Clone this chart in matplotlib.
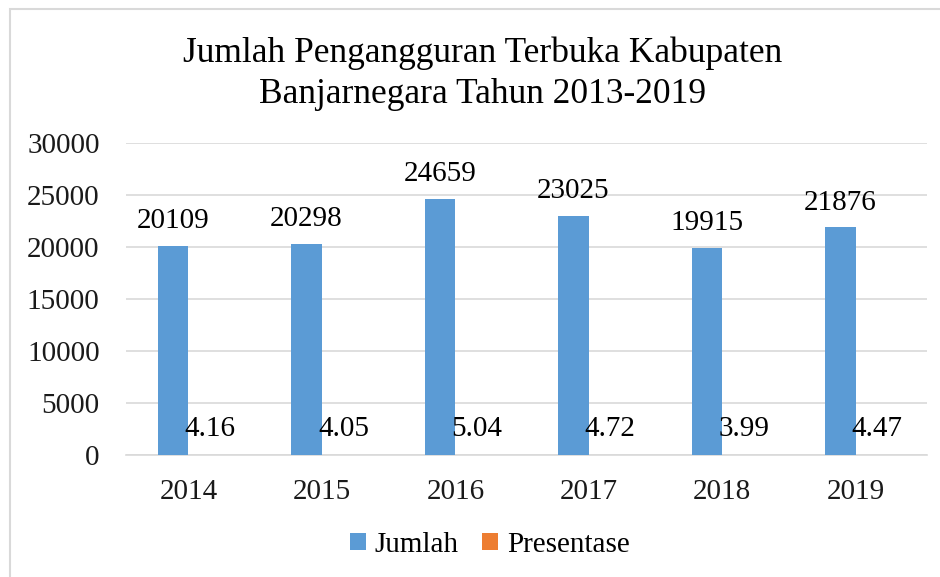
import matplotlib.pyplot as plt
from matplotlib.patches import Rectangle
import numpy as np

years = ['2014', '2015', '2016', '2017', '2018', '2019']
jumlah = [20109, 20298, 24659, 23025, 19915, 21876]
presentase = [4.16, 4.05, 5.04, 4.72, 3.99, 4.47]

plt.rcParams['font.family'] = ['Liberation Serif', 'DejaVu Serif']

fig = plt.figure(figsize=(9.4, 5.77), dpi=100)
ax = fig.add_axes([126 / 940, 1 - 455 / 577, (927 - 126) / 940, (455 - 143) / 577])

# outer chart frame
fig.patches.append(Rectangle((10 / 940, -0.01), 1.0, 1 - 9 / 577 + 0.01,
                             transform=fig.transFigure, fill=False,
                             edgecolor='#d9d9d9', linewidth=1.5))

x = np.arange(len(years))
w = 0.229
b1 = ax.bar(x - w / 2, jumlah, w, color='#5b9bd5', label='Jumlah', zorder=3)
b2 = ax.bar(x + w / 2, presentase, w, color='#ed7d31', label='Presentase', zorder=3)

ax.bar_label(b1, labels=[str(v) for v in jumlah], padding=8.5, fontsize=21)
for xi, v in zip(x, presentase):
    ax.annotate(f'{v:.2f}', (xi + w / 2, v), xytext=(4.5, 9), textcoords='offset points',
                ha='center', va='bottom', fontsize=21)

ax.set_xlim(-0.468, 5.535)
ax.set_ylim(0, 30000)
ax.set_yticks(range(0, 30001, 5000))
ax.set_xticks(x)
ax.set_xticklabels(years)
ax.tick_params(axis='both', length=0, labelsize=21, colors='#1a1a1a')
ax.tick_params(axis='x', pad=17)
ax.tick_params(axis='y', pad=19)
ax.grid(axis='y', color='#d9d9d9', linewidth=1.2, zorder=0)
for s in ['top', 'right', 'left']:
    ax.spines[s].set_visible(False)
ax.spines['bottom'].set_color('#d9d9d9')
ax.spines['bottom'].set_linewidth(1.2)

fig.text(0.513, 1 - 74 / 577, 'Jumlah Pengangguran Terbuka Kabupaten\nBanjarnegara Tahun 2013-2019',
         ha='center', va='center', fontsize=25.5, linespacing=1.3)

fig.legend(loc='center', bbox_to_anchor=(0.521, 1 - 545 / 577), ncol=2, frameon=False,
           fontsize=21, handlelength=0.55, handleheight=0.55, handletextpad=0.3,
           columnspacing=0.8)

fig.savefig('out.png', dpi=100)
